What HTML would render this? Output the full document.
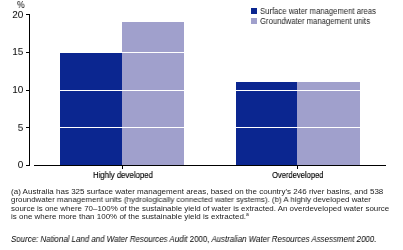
<!DOCTYPE html>
<html><head><meta charset="utf-8">
<style>
html,body{margin:0;padding:0;background:#fff;}
body{width:403px;height:250px;overflow:hidden;position:relative;font-family:"Liberation Sans",sans-serif;color:#000;}
.r{position:absolute;}
.t{position:absolute;white-space:nowrap;line-height:1;transform-origin:0 0;will-change:transform;}
.yl{font-size:10px;text-align:right;width:23.4px;left:0px;transform:scaleY(0.875);}
.dk{background:#0b2690;}
.lt{background:#a0a0cc;}
.gl{position:absolute;left:34px;width:352px;height:1px;background:#fff;}
.fn{font-size:7.9px;left:11px;color:#222;}
.k{position:absolute;background:#000;}
</style></head><body>
<div class="t" style="left:17px;top:1px;font-size:10px;transform:scale(0.86,0.875);">%</div>
<div class="t yl" style="top:11px;">20</div>
<div class="t yl" style="top:48px;">15</div>
<div class="t yl" style="top:86px;">10</div>
<div class="t yl" style="top:124px;">5</div>
<div class="t yl" style="top:161px;">0</div>

<div class="r dk" style="left:60px;top:53px;width:62px;height:112px;"></div>
<div class="r lt" style="left:122px;top:22px;width:62px;height:143px;"></div>
<div class="r dk" style="left:236px;top:82px;width:61px;height:83px;"></div>
<div class="r lt" style="left:297px;top:82px;width:63px;height:83px;"></div>
<div class="gl" style="top:52px;"></div>
<div class="gl" style="top:90px;"></div>
<div class="gl" style="top:127px;"></div>

<div class="k" style="left:29px;top:14px;width:1px;height:152px;"></div>
<div class="k" style="left:26px;top:14px;width:3px;height:1px;"></div>
<div class="k" style="left:26px;top:52px;width:3px;height:1px;"></div>
<div class="k" style="left:26px;top:90px;width:3px;height:1px;"></div>
<div class="k" style="left:26px;top:127px;width:3px;height:1px;"></div>
<div class="k" style="left:26px;top:165px;width:3px;height:1px;"></div>
<div class="k" style="left:34px;top:165px;width:352px;height:1px;"></div>
<div class="k" style="left:122px;top:166px;width:1px;height:3px;"></div>
<div class="k" style="left:297px;top:166px;width:1px;height:3px;"></div>

<div class="t" style="left:93px;top:170.1px;font-size:9.4px;transform:scaleX(0.833);-webkit-text-stroke:0.15px #000;">Highly developed</div>
<div class="t" style="left:271.5px;top:170.1px;font-size:9.4px;transform:scaleX(0.809);-webkit-text-stroke:0.15px #000;">Overdeveloped</div>

<div class="r dk" style="left:251px;top:8px;width:6px;height:6px;"></div>
<div class="r lt" style="left:251px;top:18px;width:6px;height:6px;"></div>
<div class="t" style="left:260px;top:6.5px;font-size:8.5px;transform:scaleX(0.906);color:#222;">Surface water management areas</div>
<div class="t" style="left:260px;top:16.5px;font-size:8.5px;transform:scaleX(0.906);color:#222;">Groundwater management units</div>

<div class="t fn" style="top:188px;transform:scaleX(1.016);">(a) Australia has 325 surface water management areas, based on the country's 246 river basins, and 538</div>
<div class="t fn" style="top:196.3px;transform:scaleX(0.997);">groundwater management units (hydrologically connected water systems). (b) A highly developed water</div>
<div class="t fn" style="top:204.6px;transform:scaleX(1.005);">source is one where 70&ndash;100% of the sustainable yield of water is extracted. An overdeveloped water source</div>
<div class="t fn" style="top:213px;transform:scaleX(1.013);">is one where more than 100% of the sustainable yield is extracted.<span style="font-size:5px;position:relative;top:-3px;">a</span></div>

<div class="t fn" style="top:234.5px;font-size:8.4px;font-style:italic;color:#000;transform:scaleX(0.943);">Source: National Land and Water Resources Audit <span style="font-style:normal">2000,</span> Australian Water Resources Assessment 2000.</div>
</body></html>
